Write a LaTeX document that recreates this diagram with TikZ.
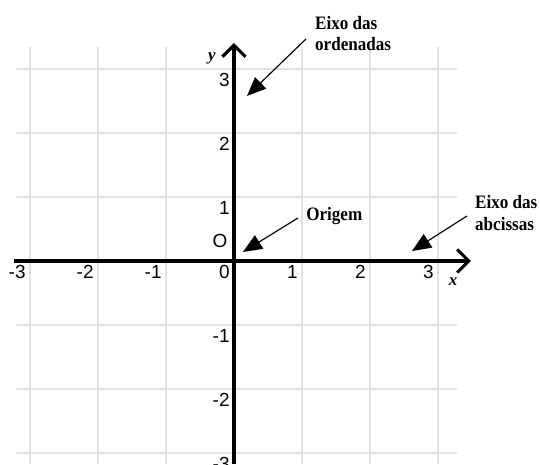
\documentclass[tikz,border=0pt]{standalone}
\usepackage{fontspec}
\setmainfont{Liberation Serif}
\setsansfont{Liberation Sans}
\usetikzlibrary{arrows.meta, positioning, calc}
\definecolor{GridGray}{RGB}{226,226,226}
\newcommand{\squeezed}[1]{\scalebox{0.9}[1]{#1}}

\begin{document}
\begin{tikzpicture}[x=2.2667cm, y=2.1333cm, >=Stealth,
    tick/.style={font=\sffamily\fontsize{18}{18}\selectfont, inner sep=0pt},
    axislbl/.style={font=\bfseries\itshape\fontsize{16}{16}\selectfont, inner sep=0pt},
    callout/.style={font=\bfseries\fontsize{18}{20}\selectfont, align=left, inner sep=0pt, anchor=west},
    pointer/.style={-{Triangle[length=18pt, width=15pt]}, line width=1.1pt}]
        \useasboundingbox (-3.441,-3.172) rectangle (4.5,4.078);
        % Grid
        \foreach \y in {-3,...,3} {
            \draw[GridGray, line width=1.4pt] (-3.206,\y) -- (3.279,\y);
        }
        \foreach \x in {-3,...,3} {
            \draw[GridGray, line width=1.4pt] (\x,-3.172) -- (\x,3.344);
        }
        % Axes
        \draw[line width=3pt, -{Straight Barb[length=11pt, width=22pt]}] (-3.235,0) -- (3.485,0);
        \draw[line width=3pt, -{Straight Barb[length=11pt, width=22pt]}] (0,-3.172) -- (0,3.406);
        \node[axislbl] (xlbl) at (3.221,-0.328) {x};
        \node[axislbl] (ylbl) at (-0.324,3.172) {y};
        % Tick labels
        \foreach \x in {-3,...,3} {
            \node[tick, anchor=north east, xshift=-4pt, yshift=-4pt] (xt\x) at (\x,0) {\x};
        }
        \foreach \y in {-3,-2,-1,1,2,3} {
            \node[tick, anchor=north east, xshift=-4pt, yshift=-4pt] (yt\y) at (0,\y) {\y};
        }
        \node[tick, anchor=south east, xshift=-6pt, yshift=12pt] (orig) at (0,0) {O};
        % Callouts
        \node[callout] (ordlbl) at (1.191,3.56) {\squeezed{Eixo das}\\\squeezed{ordenadas}};
        \node[callout] (origlbl) at (1.06,0.703) {\squeezed{Origem}};
        \node[callout] (abclbl) at (3.544,0.75) {\squeezed{Eixo das}\\\squeezed{abcissas}};
        \coordinate (ordtail) at (1.059,3.469);
        \coordinate (ordtip) at (0.191,2.578);
        \coordinate (origtail) at (0.941,0.672);
        \coordinate (origtip) at (0.132,0.141);
        \coordinate (abctail) at (3.426,0.703);
        \coordinate (abctip) at (2.618,0.156);
        \draw[pointer] (ordtail) -- (ordtip);
        \draw[pointer] (origtail) -- (origtip);
        \draw[pointer] (abctail) -- (abctip);
    \end{tikzpicture}
\end{document}
